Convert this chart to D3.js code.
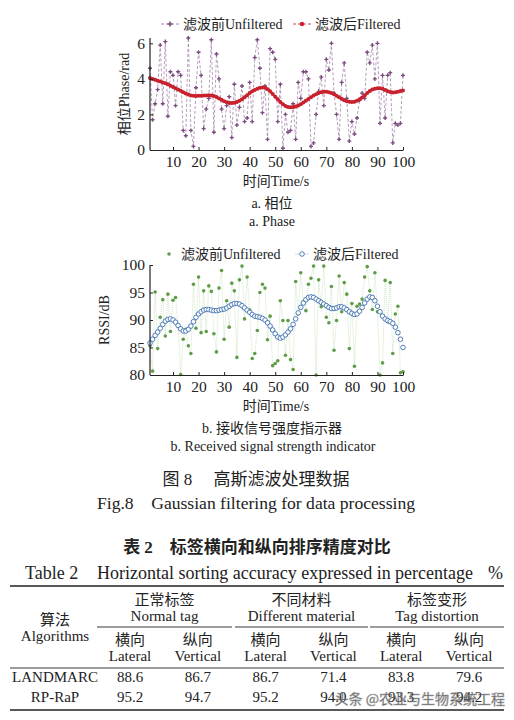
<!DOCTYPE html>
<html lang="zh">
<head>
<meta charset="UTF-8">
<script src="https://d3js.org/d3.v7.min.js"></script>
<style>
body { margin: 0; background: #fff; }
svg { display: block; }
text { font-family: "Liberation Serif", "Noto Sans CJK SC", serif; fill: #222; }
</style>
</head>
<body>
<div id="chart"></div>
<script>
// time axis ticks
const xTicks = [10, 20, 30, 40, 50, 60, 70, 80, 90, 100];

// phase (rad), t = 1..100
const phaseRaw = [4.6, 1.7, 2.6, 3.4, 5.9, 2.6, 6.1, 1.9, 4.4, 4.2,
  2.5, 4.4, 4.2, 1.1, 0.8, 6.3, 1.1, 0.2, 3.5, 5.5,
  4.2, 1.2, 2.3, 2.9, 6.2, 1.0, 5.4, 4.0, 2.3, 1.2,
  2.5, 3.0, 0.7, 3.7, 1.4, 2.4, 3.6, 1.6, 1.8, 3.8,
  1.6, 5.2, 6.2, 4.6, 2.1, 3.6, 0.6, 5.7, 5.5, 5.1,
  1.6, 3.7, 0.1, 2.0, 1.0, 1.1, 2.6, 0.6, 3.8, 2.9,
  4.4, 4.4, 4.0, 0.2, 0.4, 2.0, 3.3, 4.1, 2.5, 5.1,
  4.5, 6.0, 3.2, 2.0, 0.6, 3.8, 4.9, 2.9, 0.5, 1.6,
  0.9, 1.8, 2.8, 3.2, 2.9, 5.5, 4.9, 5.9, 4.0, 6.0,
  1.5, 4.2, 1.8, 4.2, 4.35, 0.4, 1.5, 1.4, 1.5, 4.2];
const phaseFilt = [4.05, 4.0, 3.95, 3.9, 3.85, 3.8, 3.75, 3.7, 3.62, 3.55,
  3.47, 3.4, 3.33, 3.25, 3.18, 3.12, 3.07, 3.05, 3.04, 3.05,
  3.05, 3.06, 3.07, 3.08, 3.07, 3.04, 2.98, 2.9, 2.82, 2.74,
  2.68, 2.64, 2.64, 2.66, 2.7, 2.77, 2.86, 2.97, 3.08, 3.2,
  3.3, 3.38, 3.45, 3.5, 3.52, 3.5, 3.42, 3.3, 3.15, 3.0,
  2.85, 2.7, 2.58, 2.48, 2.42, 2.4, 2.41, 2.44, 2.5, 2.58,
  2.67, 2.77, 2.87, 2.97, 3.06, 3.14, 3.2, 3.25, 3.28, 3.28,
  3.25, 3.2, 3.13, 3.05, 2.97, 2.88, 2.8, 2.74, 2.71, 2.7,
  2.72, 2.77, 2.85, 2.95, 3.07, 3.2, 3.32, 3.4, 3.45, 3.47,
  3.47, 3.44, 3.38, 3.31, 3.26, 3.24, 3.25, 3.28, 3.32, 3.35];

// RSSI (dB), t = 1..100
const rssiRaw = [85.3, 80.7, 95.1, 84.8, 90.5, 93.7, 87.1, 94.7, 87.9, 93.6,
  94.1, 88.9, 80.1, 86.5, 88.3, 85.3, 83.9, 96.5, 88.5, 97.8,
  87.7, 95.3, 87.9, 96.2, 95.2, 87.5, 84.2, 95.8, 99.0, 86.5,
  93.5, 88.7, 96.7, 95.3, 83.2, 97.3, 99.8, 90.2, 97.8, 91.8,
  83.0, 83.9, 88.1, 95.0, 96.5, 95.8, 86.4, 90.7, 81.7, 82.1,
  82.6, 93.5, 89.9, 83.6, 89.9, 82.8, 81.0, 97.0, 91.1, 98.6,
  93.3, 91.7, 96.5, 97.6, 99.8, 80.0, 97.3, 92.4, 99.8, 90.5,
  89.5, 96.1, 84.5, 89.9, 98.0, 91.5, 96.8, 94.7, 84.8, 93.0,
  81.6, 92.5, 92.9, 93.8, 97.8, 99.7, 95.3, 91.9, 98.6, 91.5,
  80.0, 82.2, 97.2, 89.7, 96.8, 83.9, 91.1, 92.5, 80.4, 80.6];
const rssiFilt = [85.8, 86.5, 87.2, 87.8, 88.5, 89.2, 89.8, 90.1, 90.2, 90.0,
  89.6, 89.0, 88.4, 88.0, 88.0, 88.3, 88.9, 89.7, 90.5, 91.1,
  91.5, 91.8, 91.9, 91.9, 91.8, 91.7, 91.7, 91.8, 91.9, 92.0,
  92.2, 92.5, 92.8, 93.0, 93.0, 92.9, 92.6, 92.2, 91.8, 91.4,
  91.0, 90.7, 90.6, 90.5, 90.3, 90.0, 89.5, 88.9, 88.2, 87.5,
  86.9, 86.7, 86.9, 87.3, 87.8, 88.4, 89.2, 90.2, 91.3, 92.3,
  93.1, 93.7, 94.1, 94.2, 94.1, 93.8, 93.5, 93.2, 92.9, 92.6,
  92.3, 92.1, 92.1, 92.2, 92.4, 92.4, 92.2, 91.9, 91.5, 91.2,
  91.0, 91.1, 91.6, 92.3, 93.1, 93.8, 94.2, 94.1, 93.5, 92.5,
  91.5, 90.7, 90.2, 89.9, 89.7, 89.4, 88.7, 87.7, 86.5, 85.0];

const phaseTicks = [0, 2, 4, 6];
const rssiTicks = [80, 85, 90, 95, 100];

// table
const tableGroups = [["正常标签", "Normal tag"], ["不同材料", "Different material"], ["标签变形", "Tag distortion"]];
const tableSub = [["横向", "Lateral"], ["纵向", "Vertical"]];
const tableRows = ["LANDMARC", "RP-RaP"];
const tableVals = [
  ["88.6", "86.7", "86.7", "71.4", "83.8", "79.6"],
  ["95.2", "94.7", "95.2", "94.0", "93.3", "94.2"]
];

const width = 514, height = 720;
const svg = d3.select("#chart").append("svg")
  .attr("width", width).attr("height", height);
svg.append("rect").attr("width", width).attr("height", height).attr("fill", "#fff");

const times = d3.range(1, 101);
const x = d3.scaleLinear().domain([1, 100]).range([150, 403]);

function drawAxes(y, ticks, yBottom, yLabel, labelX) {
  const gx = svg.append("g").attr("transform", `translate(0,${yBottom})`)
    .call(d3.axisBottom(x).tickValues(xTicks).tickSize(-3).tickSizeOuter(0).tickPadding(6));
  const gy = svg.append("g").attr("transform", "translate(150,0)")
    .call(d3.axisLeft(y).tickValues(ticks).tickFormat(d3.format("d")).tickSize(-3).tickSizeOuter(0).tickPadding(5));
  [gx, gy].forEach(g => {
    g.select(".domain").attr("stroke", "#222").attr("stroke-width", 1.2);
    g.selectAll(".tick line").attr("stroke", "#222");
    g.selectAll(".tick text").style("font-size", "15.5px").attr("fill", "#222")
      .style("font-family", "Liberation Serif");
  });
  gy.select(".domain").attr("d", `M0,${yBottom}V${y.range()[1]}`);
  svg.append("text").attr("x", 276).attr("y", yBottom + 36)
    .attr("text-anchor", "middle").style("font-size", "14px").text("时间Time/s");
  const cy = (y.range()[0] + y.range()[1]) / 2;
  svg.append("text").attr("transform", `translate(${labelX},${cy}) rotate(-90)`)
    .attr("text-anchor", "middle").style("font-size", "14px").text(yLabel);
}

// ---- chart a: phase
const yP = d3.scaleLinear().domain([0, 6.3]).range([150, 38]);
svg.append("path").datum(phaseRaw)
  .attr("fill", "none").attr("stroke", "#a583ab").attr("stroke-width", 0.8)
  .attr("stroke-dasharray", "3,2")
  .attr("d", d3.line().x((d, i) => x(times[i])).y(d => yP(d)));
const plus = d3.symbol().type(d3.symbolCross).size(14);
svg.append("g").selectAll("path").data(phaseRaw).join("path")
  .attr("transform", (d, i) => `translate(${x(times[i])},${yP(d)})`)
  .attr("d", d3.symbol().type(d3.symbolCross).size(9))
  .attr("fill", "#7a4b7e");
svg.append("path").datum(phaseFilt)
  .attr("fill", "none").attr("stroke", "#d83a44").attr("stroke-width", 2.6)
  .attr("d", d3.line().x((d, i) => x(times[i])).y(d => yP(d)));
svg.append("g").selectAll("circle").data(phaseFilt).join("circle")
  .attr("cx", (d, i) => x(times[i])).attr("cy", d => yP(d)).attr("r", 2)
  .attr("fill", "#c8222e");
drawAxes(yP, phaseTicks, 150, "相位Phase/rad", 129);

// legend a
svg.append("line").attr("x1", 161).attr("x2", 179).attr("y1", 24).attr("y2", 24)
  .attr("stroke", "#a583ab").attr("stroke-dasharray", "3,2");
svg.append("path").attr("transform", "translate(170,24)").attr("d", plus).attr("fill", "#7a4b7e");
svg.append("text").attr("x", 183).attr("y", 29).style("font-size", "14px").text("滤波前Unfiltered");
svg.append("line").attr("x1", 293).attr("x2", 311).attr("y1", 24).attr("y2", 24)
  .attr("stroke", "#d83a44").attr("stroke-dasharray", "3,2");
svg.append("circle").attr("cx", 302).attr("cy", 24).attr("r", 2.2).attr("fill", "#c8222e");
svg.append("text").attr("x", 315).attr("y", 29).style("font-size", "14px").text("滤波后Filtered");

// ---- chart b: RSSI
const yR = d3.scaleLinear().domain([80, 100]).range([375, 265]);
svg.append("path").datum(rssiRaw)
  .attr("fill", "none").attr("stroke", "#b9dcae").attr("stroke-width", 0.7)
  .attr("stroke-dasharray", "1,1")
  .attr("d", d3.line().x((d, i) => x(times[i])).y(d => yR(d)));
svg.append("g").selectAll("circle").data(rssiRaw).join("circle")
  .attr("cx", (d, i) => x(times[i])).attr("cy", d => yR(d)).attr("r", 1.8)
  .attr("fill", "#5f9c48");
svg.append("g").selectAll("circle").data(rssiFilt).join("circle")
  .attr("cx", (d, i) => x(times[i])).attr("cy", d => yR(d)).attr("r", 2.3)
  .attr("fill", "#fff").attr("stroke", "#3d6fb0").attr("stroke-width", 0.9);
drawAxes(yR, rssiTicks, 375, "RSSI/dB", 109);

// legend b
svg.append("circle").attr("cx", 169).attr("cy", 254).attr("r", 1.8).attr("fill", "#5f9c48");
svg.append("text").attr("x", 181).attr("y", 259).style("font-size", "14px").text("滤波前Unfiltered");
svg.append("line").attr("x1", 295).attr("x2", 309).attr("y1", 254).attr("y2", 254)
  .attr("stroke", "#b9c9e0").attr("stroke-width", 0.7);
svg.append("circle").attr("cx", 302).attr("cy", 254).attr("r", 2.3)
  .attr("fill", "#fff").attr("stroke", "#3d6fb0").attr("stroke-width", 0.9);
svg.append("text").attr("x", 313).attr("y", 259).style("font-size", "14px").text("滤波后Filtered");

// ---- captions
const caps = [
  [208, "a. 相位", 14, 272], [226, "a. Phase", 14, 272],
  [433, "b. 接收信号强度指示器", 14, 272], [451, "b. Received signal strength indicator", 14, 273],
  [485, "图 8　  高斯滤波处理数据", 17, 256], [509, "Fig.8　Gaussian filtering for data processing", 17.6, 256]
];
caps.forEach(c => {
  svg.append("text").attr("x", c[3]).attr("y", c[0]).attr("text-anchor", "middle")
    .style("font-size", c[2] + "px").text(c[1]);
});

// ---- table
svg.append("text").attr("x", 257).attr("y", 553).attr("text-anchor", "middle")
  .style("font-size", "17px").style("font-weight", "bold").text("表 2　标签横向和纵向排序精度对比");
svg.append("text").attr("x", 25).attr("y", 579).style("font-size", "18px").text("Table 2");
svg.append("text").attr("x", 97).attr("y", 579).attr("textLength", 376).style("font-size", "18px")
  .text("Horizontal sorting accuracy expressed in percentage");
svg.append("text").attr("x", 503).attr("y", 579).attr("text-anchor", "end")
  .style("font-size", "18px").text("%");

const rule = (x1, x2, yy, w) => svg.append("line").attr("x1", x1).attr("x2", x2)
  .attr("y1", yy).attr("y2", yy).attr("stroke", "#222").attr("stroke-width", w);
rule(10, 504, 586, 1.6);
rule(10, 504, 668, 0.9);
rule(10, 504, 710, 1.6);

const colX = d3.scalePoint().domain(d3.range(6)).range([130, 469]);
const groupX = [[97, 232], [235, 368], [370, 504]];
const cell = (cx, cy, t, size) => svg.append("text").attr("x", cx).attr("y", cy)
  .attr("text-anchor", "middle").style("font-size", (size || 15) + "px").text(t);

tableGroups.forEach((g, i) => {
  const cx = (groupX[i][0] + groupX[i][1]) / 2;
  cell(cx, 605, g[0]);
  cell(cx, 621, g[1]);
  rule(groupX[i][0], groupX[i][1], 627, 0.9);
  tableSub.forEach((s, j) => {
    cell(colX(i * 2 + j), 645, s[0]);
    cell(colX(i * 2 + j), 661, s[1]);
  });
});
cell(55, 625, "算法");
cell(55, 641, "Algorithms");
tableRows.forEach((r, i) => {
  const ry = 682 + i * 20;
  cell(55, ry, r);
  tableVals[i].forEach((v, j) => cell(colX(j), ry, v));
});

// watermark
svg.append("text").attr("x", 505).attr("y", 704).attr("text-anchor", "end")
  .style("font-size", "14px").style("font-family", "Noto Sans CJK SC")
  .attr("fill", "#fff").attr("stroke", "#999").attr("stroke-width", 0.5)
  .attr("opacity", 0.8).text("头条 @农业与生物系统工程");
</script>
</body>
</html>
